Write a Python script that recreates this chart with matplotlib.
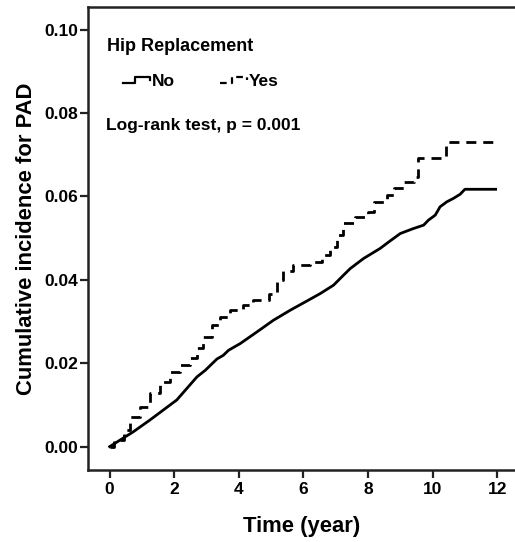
import matplotlib
matplotlib.use("Agg")
import matplotlib.pyplot as plt
from matplotlib.lines import Line2D
from matplotlib.legend_handler import HandlerBase

plt.rcParams['font.family'] = ['Liberation Sans', 'DejaVu Sans']
plt.rcParams['font.weight'] = 'bold'

# cumulative incidence
# "No" has many tiny steps, so it is drawn as a line through the readings
t_no = [0, 0.74, 1.25, 2.08, 2.70, 2.96, 3.32, 3.52, 3.68, 4.04, 4.56, 5.07,
        5.59, 6.15, 6.52, 6.93, 7.24, 7.45, 7.86, 8.37, 8.68, 9.0, 9.41,
        9.72, 9.87, 10.08, 10.23, 10.44, 10.64, 10.85, 11.0, 11.95]
y_no = [0, 0.0036, 0.0064, 0.0112, 0.0167, 0.0183, 0.0210, 0.0219, 0.0231,
        0.0247, 0.0275, 0.0303, 0.0327, 0.0351, 0.0367, 0.0387, 0.0411,
        0.0427, 0.0451, 0.0475, 0.0493, 0.0511, 0.0523, 0.0531, 0.0543,
        0.0555, 0.0575, 0.0587, 0.0595, 0.0605, 0.0617, 0.0617]

t_yes = [0, 0.12, 0.43, 0.63, 0.94, 1.25, 1.56, 1.87, 2.18, 2.49, 2.70, 2.90,
         3.16, 3.42, 3.73, 4.14, 4.45, 4.92, 5.18, 5.36, 5.69, 6.21, 6.57,
         6.83, 7.03, 7.24, 7.60, 8.01, 8.17, 8.58, 8.79, 9.10, 9.41, 9.56,
         10.42, 11.95]
y_yes = [0, 0.0016, 0.0040, 0.0071, 0.0095, 0.0128, 0.0155, 0.0179, 0.0195,
         0.0213, 0.0237, 0.0263, 0.0291, 0.0311, 0.0327, 0.0339, 0.0351,
         0.0367, 0.0399, 0.0421, 0.0435, 0.0443, 0.0459, 0.0479, 0.0507,
         0.0535, 0.0551, 0.0563, 0.0587, 0.0603, 0.0619, 0.0635, 0.0647,
         0.0693, 0.0731, 0.0731]

x_ticks = [0, 2, 4, 6, 8, 10, 12]
y_ticks = [0.00, 0.02, 0.04, 0.06, 0.08, 0.10]


class StepHandler(HandlerBase):
    # SPSS-like step glyph for the legend
    def create_artists(self, legend, orig_handle, xdescent, ydescent,
                       width, height, fontsize, trans):
        x0 = -xdescent
        lo = -ydescent + height * 0.2
        hi = -ydescent + height * 0.75
        xs = [x0, x0 + width * 0.45, x0 + width * 0.45, x0 + width, x0 + width]
        ys = [lo, lo, hi, hi, lo + (hi - lo) * 0.45]
        ln = Line2D(xs, ys, color='black', lw=1.6,
                    linestyle=orig_handle.get_linestyle())
        if orig_handle.get_linestyle() != '-':
            ln.set_dashes((3.0, 2.0))
        ln.set_transform(trans)
        return [ln]


fig = plt.figure(figsize=(5.15, 5.42), dpi=100)
ax = fig.add_axes([88 / 515, 1 - 470 / 542, 427 / 515, 463 / 542])

l_no, = ax.plot(t_no, y_no, color='black', lw=2.0, label='No')
l_yes, = ax.step(t_yes, y_yes, where='post', color='black', lw=2.0,
                 linestyle='--', dashes=(3.6, 2.5), label='Yes')

ax.set_xlim(-0.67, 12.55)
ax.set_ylim(-0.0056, 0.1054)
ax.set_xticks(x_ticks)
ax.set_yticks(y_ticks)
ax.set_xticklabels([str(v) for v in x_ticks], fontsize=12.5, fontweight='bold')
ax.set_yticklabels(['%.2f' % v for v in y_ticks], fontsize=12.5, fontweight='bold')
ax.tick_params(axis='both', direction='out', length=6, width=1.6, color='#222222')
ax.tick_params(axis='y', pad=1)
ax.tick_params(axis='x', pad=3)

for s in ['left', 'top', 'bottom']:
    ax.spines[s].set_linewidth(1.8)
    ax.spines[s].set_color('#222222')
ax.spines['right'].set_visible(False)

ax.set_xlabel('Time (year)', fontsize=15.8, fontweight='bold', labelpad=13)
ax.set_ylabel('Cumulative incidence for PAD', fontsize=15.8, fontweight='bold', labelpad=5)

ax.text(0.0445, 0.914, 'Hip Replacement', transform=ax.transAxes,
        fontsize=13, fontweight='bold', va='center', ha='left')
ax.text(0.042, 0.743, 'Log-rank test, p = 0.001', transform=ax.transAxes,
        fontsize=12.5, fontweight='bold', va='center', ha='left')

ax.legend(handles=[l_no, l_yes], handler_map={Line2D: StepHandler()},
          loc='center left', bbox_to_anchor=(0.082, 0.840), ncol=2,
          frameon=False, borderpad=0, borderaxespad=0, handlelength=1.55,
          handletextpad=0.12, columnspacing=2.6,
          prop={'size': 12.5, 'weight': 'bold'})

fig.savefig('out.png', dpi=100)
